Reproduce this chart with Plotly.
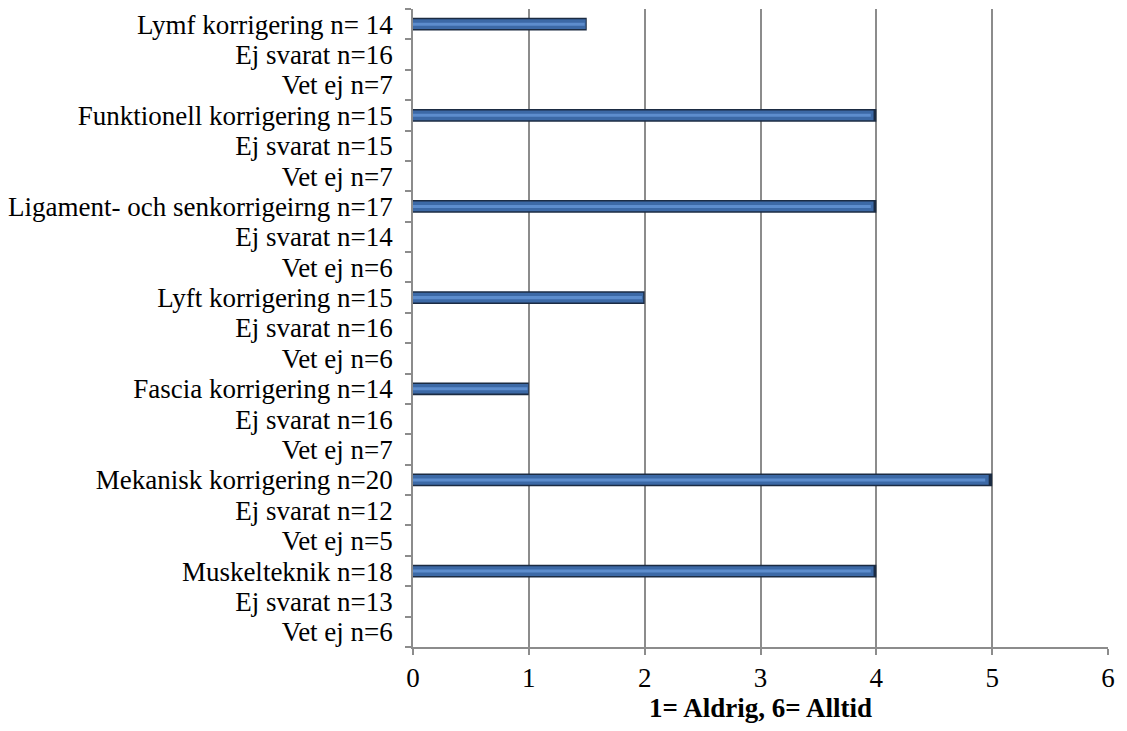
import plotly.graph_objects as go

categories = [
    "Lymf korrigering n= 14", "Ej svarat n=16", "Vet ej n=7",
    "Funktionell korrigering n=15", "Ej svarat n=15", "Vet ej n=7",
    "Ligament- och senkorrigeirng n=17", "Ej svarat n=14", "Vet ej n=6",
    "Lyft korrigering n=15", "Ej svarat n=16", "Vet ej n=6",
    "Fascia korrigering n=14", "Ej svarat n=16", "Vet ej n=7",
    "Mekanisk korrigering n=20", "Ej svarat n=12", "Vet ej n=5",
    "Muskelteknik n=18", "Ej svarat n=13", "Vet ej n=6",
]
values = [1.5, 0, 0, 4, 0, 0, 4, 0, 0, 2, 0, 0, 1, 0, 0, 5, 0, 0, 4, 0, 0]
x_ticks = [0, 1, 2, 3, 4, 5, 6]

pos = list(range(len(categories)))
font = "Times New Roman, Liberation Serif, DejaVu Serif, serif"

fig = go.Figure()
fig.add_trace(go.Bar(y=pos, x=values, orientation="h", width=0.42,
                     marker=dict(color="#1b2b42", line=dict(width=0)),
                     hoverinfo="skip"))
fig.add_trace(go.Bar(y=pos, x=[v * 0.994 if v else 0 for v in values], orientation="h", width=0.32,
                     marker=dict(color="#3c69a6", line=dict(width=0)),
                     hoverinfo="skip"))
fig.add_trace(go.Bar(y=pos, x=[v * 0.988 if v else 0 for v in values], orientation="h", width=0.1,
                     marker=dict(color="#5d8dcd", line=dict(width=0)),
                     hoverinfo="skip"))

fig.update_layout(
    barmode="overlay",
    width=1111, height=715,
    margin=dict(l=405, r=11, t=1, b=76),
    plot_bgcolor="white", paper_bgcolor="white",
    showlegend=False,
    font=dict(family=font, size=27, color="black"),
)
fig.update_xaxes(
    range=[0, 6], tickvals=x_ticks, ticktext=[str(t) for t in x_ticks],
    showgrid=True, gridcolor="#8c8c8c", gridwidth=1.5,
    showline=True, linecolor="#8c8c8c", linewidth=1.5, mirror=False,
    ticks="outside", ticklen=6, tickcolor="#8c8c8c", tickwidth=1.5,
    tickfont=dict(family=font, size=27), zeroline=False, automargin=False,
    title=dict(text="<b>1= Aldrig, 6= Alltid</b>", font=dict(family=font, size=27), standoff=12),
)
fig.update_yaxes(
    range=[20.5, -0.5], tickvals=pos, ticktext=categories,
    showgrid=False, zeroline=False, automargin=False,
    showline=True, linecolor="#8c8c8c", linewidth=1.5,
    ticks="", ticklabelstandoff=13,
    minor=dict(tickvals=[p - 0.5 for p in pos] + [20.5], ticks="outside", ticklen=6,
               tickcolor="#8c8c8c", tickwidth=1.5, showgrid=False),
    tickfont=dict(family=font, size=27),
)

fig.write_html("out.html")
